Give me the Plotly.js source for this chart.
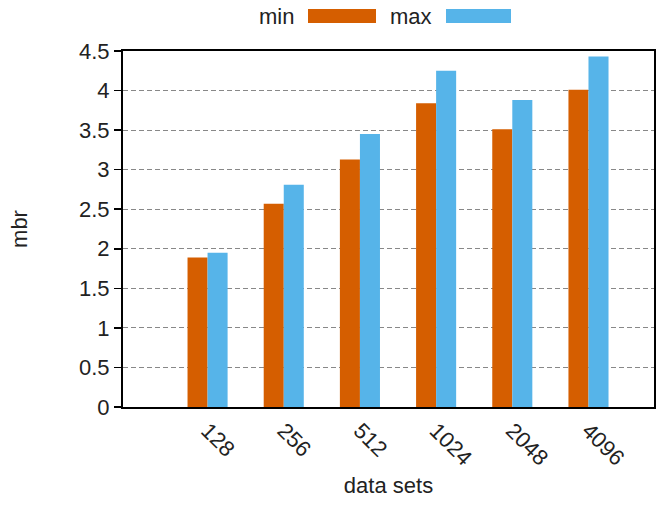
<!DOCTYPE html>
<html>
<head>
<meta charset="utf-8">
<script src="https://cdn.plot.ly/plotly-3.0.1.min.js"></script>
<style>html,body{margin:0;padding:0;background:#fff;}#chart{width:663px;height:505px;}</style>
</head>
<body>
<div id="chart"></div>
<script>
var categories = ["128", "256", "512", "1024", "2048", "4096"];
var minValues = [1.89, 2.57, 3.13, 3.84, 3.51, 4.01];
var maxValues = [1.95, 2.81, 3.45, 4.25, 3.88, 4.43];
var seriesNames = ["min", "max"];
var yTicks = [0, 0.5, 1, 1.5, 2, 2.5, 3, 3.5, 4, 4.5];
var yTickText = ["0", "0.5", "1", "1.5", "2", "2.5", "3", "3.5", "4", "4.5"];

var W = 663, H = 505;
var M = {l: 123, r: 9, t: 51, b: 98};
var pw = W - M.l - M.r, ph = H - M.t - M.b;
function px(x) { return (x - M.l) / pw; }
function py(y) { return (H - M.b - y) / ph; }

var orange = "#D55E00", blue = "#56B4E9";
var fontFam = "Liberation Sans, Arial, sans-serif";
var txtCol = "#222";

var traces = [
  {type: "bar", name: seriesNames[0], x: categories, y: minValues, marker: {color: orange, line: {width: 0}}, showlegend: false},
  {type: "bar", name: seriesNames[1], x: categories, y: maxValues, marker: {color: blue, line: {width: 0}}, showlegend: false}
];

var layout = {
  width: W, height: H,
  margin: M,
  paper_bgcolor: "#fff", plot_bgcolor: "#fff",
  font: {family: fontFam, size: 22, color: txtCol},
  barmode: "group", bargap: 0.474, bargroupgap: 0,
  xaxis: {
    type: "category",
    range: [-1.11, 5.86],
    showline: true, mirror: true, linecolor: "#000", linewidth: 2,
    ticks: "", showgrid: false, zeroline: false,
    tickangle: 45,
    tickfont: {family: fontFam, size: 22, color: txtCol},
    title: {text: "data sets", font: {family: fontFam, size: 22, color: txtCol}, standoff: 8}
  },
  yaxis: {
    range: [0, 4.5],
    tickvals: yTicks, ticktext: yTickText,
    showline: true, mirror: true, linecolor: "#000", linewidth: 2,
    ticks: "outside", ticklen: 7, tickwidth: 1.5, tickcolor: "#000",
    showgrid: true, gridcolor: "#888", gridwidth: 1, griddash: "5px,3px",
    zeroline: false,
    tickfont: {family: fontFam, size: 22, color: txtCol},
    title: {text: "mbr", font: {family: fontFam, size: 22, color: txtCol}, standoff: 45}
  },
  shapes: [
    {type: "rect", xref: "paper", yref: "paper", x0: px(308), x1: px(376), y0: py(23), y1: py(9), fillcolor: orange, line: {width: 0}},
    {type: "rect", xref: "paper", yref: "paper", x0: px(446), x1: px(511), y0: py(23), y1: py(9), fillcolor: blue, line: {width: 0}}
  ],
  annotations: [
    {xref: "paper", yref: "paper", x: px(296), y: py(16), xanchor: "right", yanchor: "middle", text: seriesNames[0], showarrow: false, font: {family: fontFam, size: 22, color: txtCol}},
    {xref: "paper", yref: "paper", x: px(434), y: py(16), xanchor: "right", yanchor: "middle", text: seriesNames[1], showarrow: false, font: {family: fontFam, size: 22, color: txtCol}}
  ]
};

Plotly.newPlot("chart", traces, layout, {displayModeBar: false, staticPlot: true});
</script>
</body>
</html>
